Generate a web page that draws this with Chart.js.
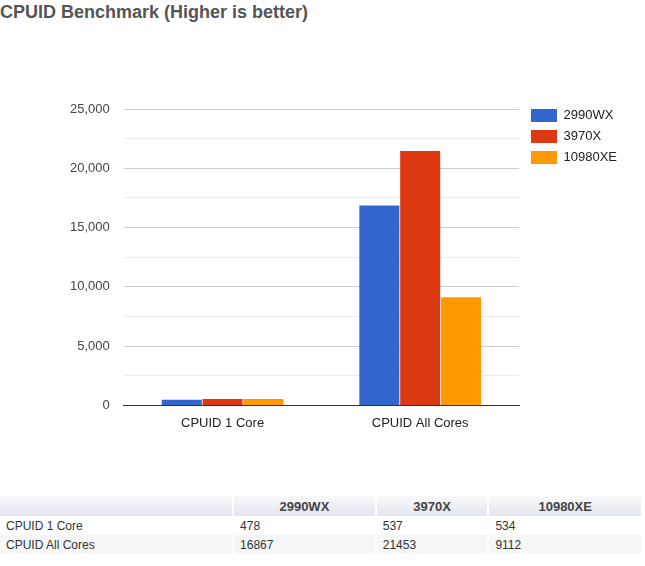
<!DOCTYPE html>
<html>
<head>
<meta charset="utf-8">
<script src="https://cdn.jsdelivr.net/npm/chart.js@4/dist/chart.umd.min.js"></script>
<style>
  body { margin: 0; background: #fff; font-family: Arial, "Liberation Sans", sans-serif; }
  #title { position: absolute; left: 0; top: 0; font-size: 18px; line-height: 24px; font-weight: bold; color: #555; }
  #wrap { position: absolute; left: 0; top: 40px; width: 645px; height: 410px; }
  table { position: absolute; left: 0; top: 496px; width: 641px; border-collapse: collapse; font-size: 12px; color: #333; }
  th { height: 20px; padding: 0 6px; font-size: 13px; color: #444; text-align: center;
       background: linear-gradient(#f9f9fc, #e3e5ed); border-left: 2px solid #fff; }
  td { height: 19px; padding: 0 6px; border-left: 2px solid #fff; }
  tr.alt td { background: #f6f6f6; }
</style>
</head>
<body>
<div id="title">CPUID Benchmark (Higher is better)</div>
<div id="wrap"><canvas id="chart"></canvas></div>
<table id="tbl"></table>
<script>
// Benchmark data
const categories = ['CPUID 1 Core', 'CPUID All Cores'];
const cpus = ['2990WX', '3970X', '10980XE'];
const scores2990WX = [478, 16867];
const scores3970X = [537, 21453];
const scores10980XE = [534, 9112];
const colors = ['#3366cc', '#dc3912', '#ff9900'];

const seriesValues = [scores2990WX, scores3970X, scores10980XE];
const fontFamily = 'Arial, "Liberation Sans", sans-serif';

// nudge the legend so it lines up with the top of the plot
const legendNudge = {
  id: 'legendNudge',
  afterLayout(chart) {
    chart.legend.top -= 8;
    chart.legend.left += 4;
  }
};

const ctx = document.getElementById('chart').getContext('2d');
new Chart(ctx, {
  type: 'bar',
  data: {
    labels: categories,
    datasets: cpus.map((name, i) => ({
      label: name,
      data: seriesValues[i],
      backgroundColor: colors[i],
      borderWidth: 0,
      barPercentage: 0.98,
      categoryPercentage: 0.62
    }))
  },
  plugins: [legendNudge],
  options: {
    responsive: true,
    maintainAspectRatio: false,
    animation: false,
    layout: { padding: { left: 56, top: 69, right: 22, bottom: 17 } },
    plugins: {
      tooltip: { enabled: false },
      legend: {
        position: 'right',
        align: 'start',
        fullSize: false,
        labels: {
          boxWidth: 26,
          boxHeight: 13,
          padding: 8,
          color: '#222',
          font: { family: fontFamily, size: 13 }
        }
      }
    },
    scales: {
      x: {
        grid: { display: false },
        border: { display: true, color: '#333' },
        ticks: { color: '#222', padding: 2, font: { family: fontFamily, size: 13 } }
      },
      y: {
        min: 0,
        max: 25000,
        border: { display: false },
        grid: {
          drawTicks: false,
          color: c => c.tick.value === 0 ? '#333' : (c.tick.value % 5000 === 0 ? '#ccc' : '#ebebeb')
        },
        ticks: {
          stepSize: 2500,
          padding: 14,
          color: '#444',
          font: { family: fontFamily, size: 13 },
          callback: v => v % 5000 === 0 ? v.toLocaleString('en-US') : ''
        }
      }
    }
  }
});

// Data table under the chart
const tbl = document.getElementById('tbl');
let html = '<tr><th style="width:221px;border-left:none"></th>' +
  cpus.map((c, i) => `<th style="width:${[129, 99, 140][i]}px">${c}</th>`).join('') + '</tr>';
categories.forEach((cat, r) => {
  html += `<tr class="${r % 2 ? 'alt' : ''}"><td style="border-left:none">${cat}</td>` +
    seriesValues.map(s => `<td>${s[r]}</td>`).join('') + '</tr>';
});
tbl.innerHTML = html;
</script>
</body>
</html>
